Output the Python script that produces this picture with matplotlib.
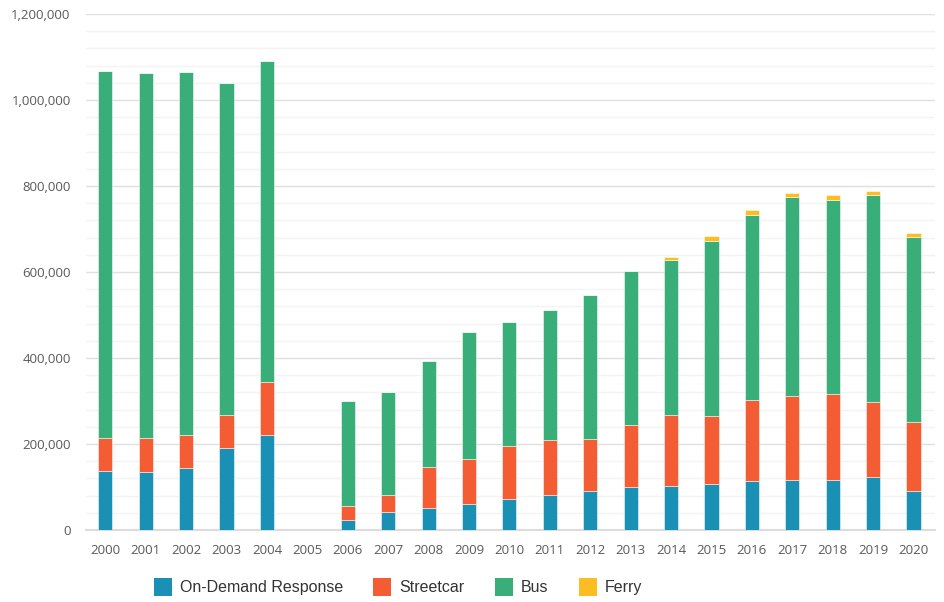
import numpy as np
import matplotlib
matplotlib.use("Agg")
import matplotlib.pyplot as plt
from matplotlib.patches import Patch
from matplotlib.ticker import MultipleLocator, FuncFormatter

years = [str(y) for y in range(2000, 2021)]

# values (stacked totals converted to segment sizes)
on_demand = [137200, 135700, 143400, 191500, 221000, 0,
             23300, 41000, 51200, 60500, 72900, 80600, 89900,
             99200, 101500, 106200, 113200, 115500, 115500, 123300, 90700]
streetcar = [77500, 77500, 77600, 75900, 122400, 0,
             31700, 39600, 94500, 103800, 122400, 127900, 122500,
             145000, 165200, 158900, 188400, 196900, 200000, 173600, 159700]
bus = [852300, 848800, 845000, 772600, 747300, 0,
       245800, 240400, 247300, 296200, 289200, 302500, 334100,
       358900, 362000, 407800, 430200, 462000, 451900, 481400, 431800]
ferry = [0, 0, 0, 0, 0, 0,
         0, 0, 0, 0, 0, 0, 0,
         0, 5400, 10100, 11600, 10100, 11700, 9300, 8500]

series = [
    ("On-Demand Response", on_demand, "#1990b4"),
    ("Streetcar", streetcar, "#f45c33"),
    ("Bus", bus, "#3aae79"),
    ("Ferry", ferry, "#fbbd21"),
]

fig = plt.figure(figsize=(9.44, 6.02), dpi=100)
ax = fig.add_axes([0.091, 0.1196, 0.899, 0.8571])

x = np.arange(len(years))
bottom = np.zeros(len(years))
for name, vals, col in series:
    vals = np.array(vals, dtype=float)
    ax.bar(x, vals, width=0.35, bottom=bottom, color=col,
           edgecolor=(1, 1, 1, 0.6), linewidth=0.6, zorder=3)
    bottom += vals

ax.set_xlim(-0.48, 20.52)
ax.set_ylim(0, 1200000)
ax.yaxis.set_major_locator(MultipleLocator(200000))
ax.yaxis.set_minor_locator(MultipleLocator(40000))
ax.yaxis.set_major_formatter(FuncFormatter(lambda v, p: f"{int(v):,}"))
ax.grid(axis="y", which="major", color="#e0e0e0", linewidth=1.0, zorder=0)
ax.grid(axis="y", which="minor", color="#f3f3f3", linewidth=1.0, zorder=0)
ax.set_axisbelow(True)

for s in ["top", "right", "left"]:
    ax.spines[s].set_visible(False)
ax.spines["bottom"].set_color("#dcdcdc")
ax.spines["bottom"].set_linewidth(1.5)

ax.set_xticks(x)
ax.set_xticklabels(years)
ax.tick_params(axis="both", which="both", length=0, labelsize=9.5,
               labelcolor="#595959")
ax.tick_params(axis="x", pad=10)
ax.tick_params(axis="y", pad=11)
for lab in ax.get_xticklabels() + ax.get_yticklabels():
    lab.set_family("Open Sans")

handles = [Patch(facecolor=c, edgecolor="none", label=n) for n, _, c in series]
fig.legend(handles=handles, loc="center", bbox_to_anchor=(0.4216, 1 - 587 / 602),
           ncol=4, frameon=False, handlelength=1.13, handleheight=1.37,
           handletextpad=0.5, columnspacing=1.9,
           prop={"family": "Liberation Sans", "size": 11.5},
           labelcolor="#333333")

fig.savefig("out.png", dpi=100)
